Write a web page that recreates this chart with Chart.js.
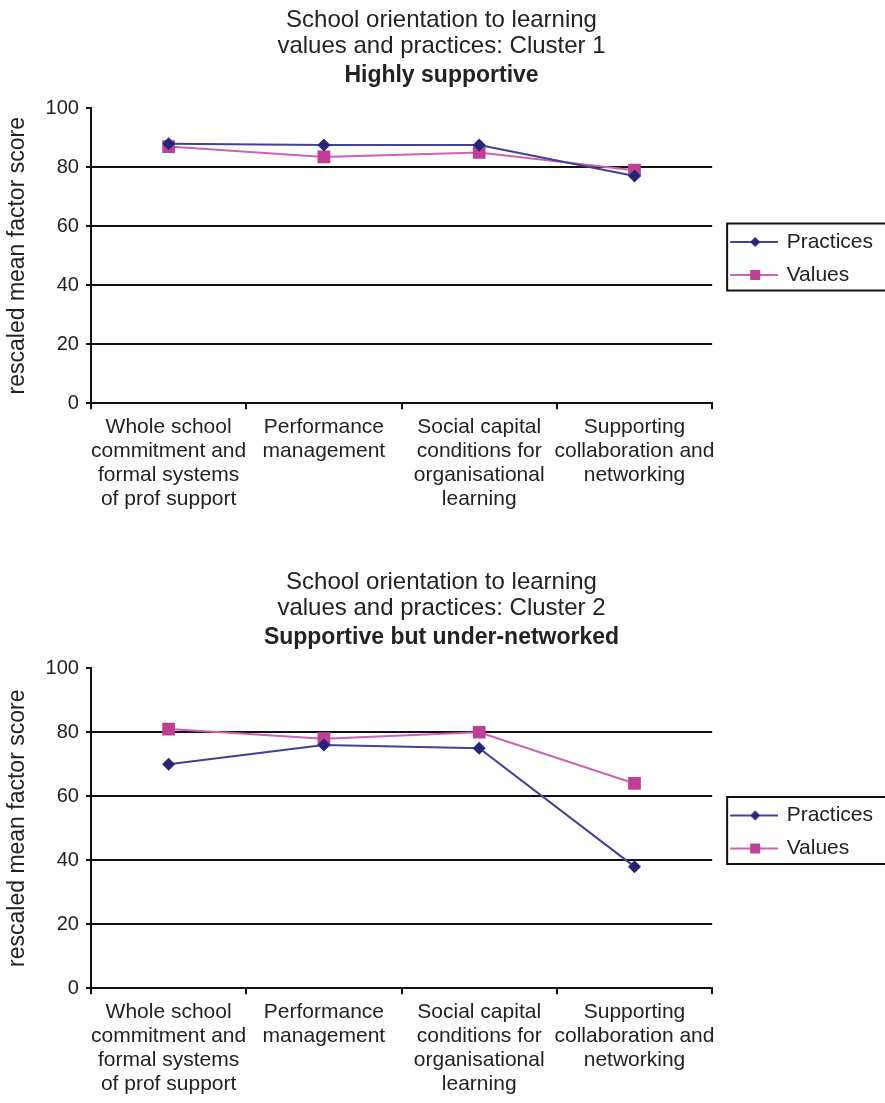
<!DOCTYPE html>
<html>
<head>
<meta charset="utf-8">
<script src="https://cdn.jsdelivr.net/npm/chart.js@4.4.1/dist/chart.umd.min.js"></script>
<style>
  html, body { margin: 0; padding: 0; background: #ffffff; overflow: hidden; }
  body { width: 885px; height: 1103px; position: relative; overflow: hidden; }
  #c1 { position: absolute; left: 0; top: 0; }
  #c2 { position: absolute; left: 0; top: 562px; }
</style>
</head>
<body>
<canvas id="c1" width="905" height="517"></canvas>
<canvas id="c2" width="905" height="540"></canvas>
<script>
// ---- data ----
const categories = [
  ["Whole school", "commitment and", "formal systems", "of prof support"],
  ["Performance", "management"],
  ["Social capital", "conditions for", "organisational", "learning"],
  ["Supporting", "collaboration and", "networking"]
];
const seriesNames = ["Practices", "Values"];
const cluster1Practices = [88, 87.5, 87.5, 77];
const cluster1Values = [87, 83.5, 85, 79];
const cluster2Practices = [70, 76, 75, 38];
const cluster2Values = [81, 78, 80, 64];
const yTicks = [0, 20, 40, 60, 80, 100];
const title1 = ["School orientation to learning", "values and practices: Cluster 1"];
const subtitle1 = "Highly supportive";
const title2 = ["School orientation to learning", "values and practices: Cluster 2"];
const subtitle2 = "Supportive but under-networked";
const yAxisTitle = "rescaled mean factor score";

// ---- styles ----
const FONT = "'Liberation Sans', Arial, Helvetica, sans-serif";
const TEXT = '#222222';
const practicesLine = '#40409e';
const practicesMarker = '#262678';
const valuesLine = '#d061b0';
const valuesMarker = '#c03f96';

function legendImage(lineColor, markerColor, kind) {
  const c = document.createElement('canvas');
  c.width = 56; c.height = 14;
  const ctx = c.getContext('2d');
  ctx.strokeStyle = lineColor; ctx.lineWidth = 2;
  ctx.beginPath(); ctx.moveTo(8, 7); ctx.lineTo(56, 7); ctx.stroke();
  ctx.fillStyle = markerColor;
  if (kind === 'diamond') {
    ctx.beginPath(); ctx.moveTo(33, 2); ctx.lineTo(38, 7); ctx.lineTo(33, 12); ctx.lineTo(28, 7); ctx.closePath(); ctx.fill();
  } else {
    ctx.fillRect(28, 2, 10, 10);
  }
  return c;
}
const legendImgs = [
  legendImage(practicesLine, practicesMarker, 'diamond'),
  legendImage(valuesLine, valuesMarker, 'square')
];

const legendBorder = {
  id: 'legendBorder',
  afterDraw(chart) {
    const lg = chart.legend;
    if (!lg || !lg.legendHitBoxes || !lg.legendHitBoxes.length) return;
    const hb = lg.legendHitBoxes;
    const top = hb[0].top - 8;
    const last = hb[hb.length - 1];
    const bottom = last.top + last.height + 5;
    const left = chart.chartArea.right + 15;
    const ctx = chart.ctx;
    ctx.save();
    ctx.strokeStyle = '#111';
    ctx.lineWidth = 2;
    ctx.strokeRect(left, top, chart.width - left + 5, bottom - top);
    ctx.restore();
  }
};

function makeChart(id, titleText, subtitleText, practices, values, subPadBottom) {
  return new Chart(document.getElementById(id), {
    type: 'line',
    data: {
      labels: categories,
      datasets: [
        {
          label: seriesNames[0], data: practices,
          borderColor: practicesLine, borderWidth: 2,
          pointStyle: 'rectRot', pointRadius: 6.5, pointHoverRadius: 6.5,
          pointBackgroundColor: practicesMarker, pointBorderColor: practicesMarker, pointBorderWidth: 0,
          tension: 0
        },
        {
          label: seriesNames[1], data: values,
          borderColor: valuesLine, borderWidth: 2,
          pointStyle: 'rect', pointRadius: 9, pointHoverRadius: 9,
          pointBackgroundColor: valuesMarker, pointBorderColor: valuesMarker, pointBorderWidth: 0,
          tension: 0
        }
      ]
    },
    options: {
      responsive: false,
      animation: false,
      devicePixelRatio: 1,
      layout: { padding: { left: 0, right: 22, top: 0, bottom: 0 } },
      plugins: {
        title: {
          display: true, text: titleText, color: TEXT,
          font: { family: FONT, size: 24, weight: 'normal', lineHeight: 1.1 },
          padding: { top: 7, bottom: 0 }
        },
        subtitle: {
          display: true, text: subtitleText, color: TEXT,
          font: { family: FONT, size: 23, weight: 'bold', lineHeight: 1.15 },
          padding: { top: 3, bottom: subPadBottom }
        },
        legend: {
          display: true, position: 'right', align: 'center',
          labels: {
            color: TEXT,
            font: { family: FONT, size: 21 },
            usePointStyle: true, pointStyleWidth: 52,
            padding: 12,
            generateLabels(chart) {
              return chart.data.datasets.map((ds, i) => ({
                text: ds.label, pointStyle: legendImgs[i],
                fillStyle: ds.borderColor, strokeStyle: ds.borderColor,
                lineWidth: 0, hidden: false, datasetIndex: i, fontColor: TEXT
              }));
            }
          }
        },
        tooltip: { enabled: false }
      },
      scales: {
        x: {
          type: 'category', offset: true,
          grid: {
            display: true, drawOnChartArea: false, offset: true,
            tickLength: 6, tickColor: '#111', lineWidth: 2
          },
          border: { display: true, color: '#111', width: 2 },
          ticks: {
            color: TEXT, font: { family: FONT, size: 21, lineHeight: 1.14 },
            maxRotation: 0, minRotation: 0, autoSkip: false, padding: 6
          }
        },
        y: {
          min: 0, max: 100,
          afterBuildTicks(scale) { scale.ticks = yTicks.map(v => ({ value: v })); },
          grid: {
            drawOnChartArea: true,
            color: (c) => (c.tick && c.tick.value > 0 && c.tick.value < 100) ? '#111' : 'rgba(0,0,0,0)',
            lineWidth: 2, tickLength: 5, tickColor: '#111'
          },
          border: { display: true, color: '#111', width: 2 },
          ticks: { color: TEXT, font: { family: FONT, size: 20 }, padding: 7 },
          title: {
            display: true, text: yAxisTitle, color: TEXT,
            font: { family: FONT, size: 23, lineHeight: 1.2 },
            padding: { top: 4, bottom: 7 }
          }
        }
      }
    },
    plugins: [legendBorder]
  });
}

makeChart('c1', title1, subtitle1, cluster1Practices, cluster1Values, 19);
makeChart('c2', title2, subtitle2, cluster2Practices, cluster2Values, 17);
</script>
</body>
</html>
